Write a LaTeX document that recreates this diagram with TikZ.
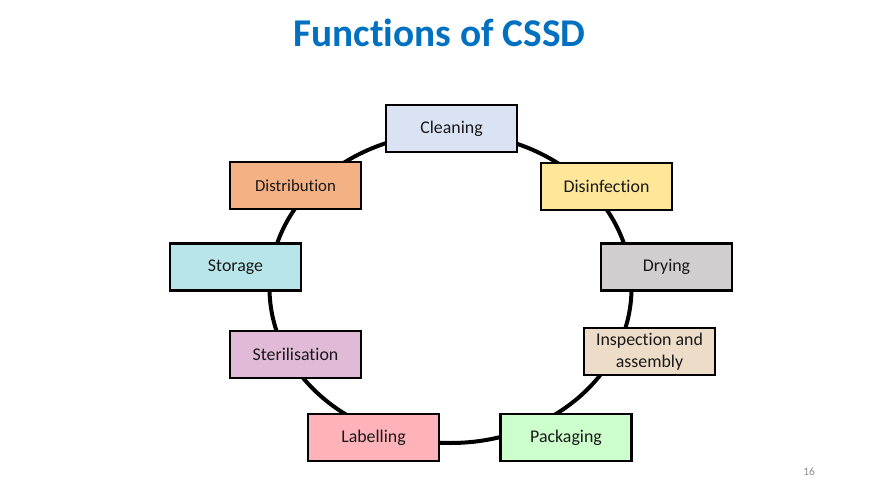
\documentclass[tikz,border=0pt]{standalone}
\usepackage{fontspec}
\setmainfont[Ligatures={NoCommon}]{Carlito}
\definecolor{titleblue}{RGB}{0,112,192}
\definecolor{txt}{RGB}{25,25,25}
\definecolor{cClean}{RGB}{218,227,243}
\definecolor{cDisinf}{RGB}{255,230,153}
\definecolor{cDry}{RGB}{208,206,206}
\definecolor{cInsp}{RGB}{237,220,200}
\definecolor{cPack}{RGB}{204,255,204}
\definecolor{cLabel}{RGB}{255,178,186}
\definecolor{cSteril}{RGB}{224,186,214}
\definecolor{cStor}{RGB}{183,229,233}
\definecolor{cDistr}{RGB}{244,177,131}
\begin{document}
\begin{tikzpicture}[x=0.75pt,y=-0.75pt,
  fnbox/.style={draw=black,line width=2.2pt,minimum width=98.25pt,minimum height=35.25pt,
    inner sep=0pt,text=txt,font=\fontsize{13.4}{16.5}\selectfont,align=center},
  ring/.style={draw=black,line width=3pt}]
\path[use as bounding box,fill=white] (0,0) rectangle (880,495);
\node[anchor=base,text=titleblue,font=\fontsize{29.5}{34}\selectfont\bfseries] (title) at (439.5,47) {Functions of CSSD};
\coordinate (ctr) at (450.5,288);
\draw[ring] (ctr) ellipse [x radius=135.75pt, y radius=116.25pt];
\node[fnbox,fill=cClean] (clean) at (451.5,128.5) {Cleaning};
\node[fnbox,fill=cDisinf] (disinf) at (606.5,186.5) {Disinfection};
\node[fnbox,fill=cDry] (dry) at (666.5,267) {Drying};
\node[fnbox,fill=cInsp] (insp) at (649.5,351.5) {Inspection and\\assembly};
\node[fnbox,fill=cPack] (pack) at (566,437.5) {Packaging};
\node[fnbox,fill=cLabel] (label) at (373.5,437.5) {Labelling};
\node[fnbox,fill=cSteril] (steril) at (295.5,354.5) {Sterilisation};
\node[fnbox,fill=cStor] (stor) at (235.5,267) {Storage};
\node[fnbox,fill=cDistr,font=\fontsize{12.6}{15}\selectfont] (distr) at (295.5,185.5) {Distribution};
\node[text=black!45,font=\fontsize{8.5}{9}\selectfont] (page) at (809,472) {16};
\end{tikzpicture}
\end{document}
